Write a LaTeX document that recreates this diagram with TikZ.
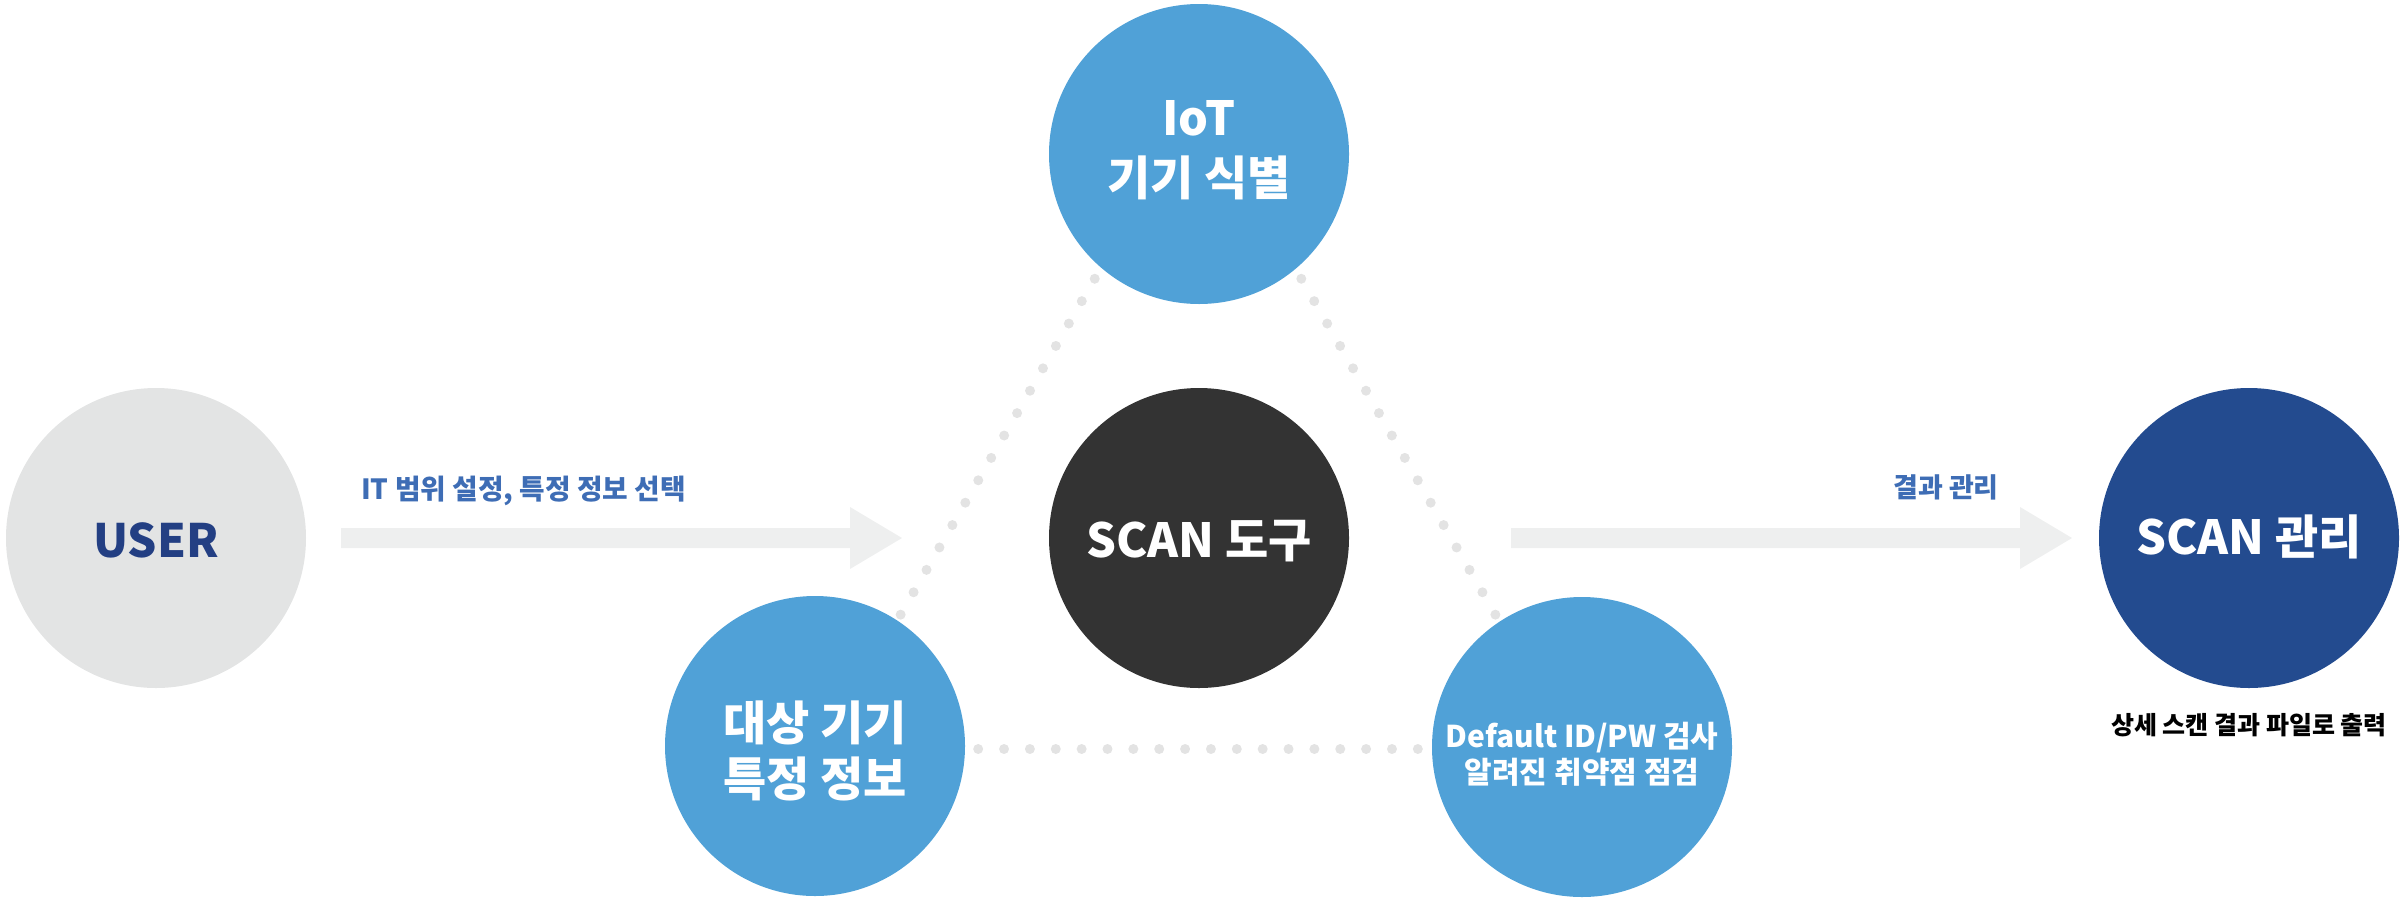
\documentclass[tikz,border=0pt]{standalone}
\usepackage{fontspec}
\usetikzlibrary{calc}
\setmainfont{Noto Sans CJK KR}
\definecolor{usergray}{HTML}{E3E4E4}
\definecolor{userblue}{HTML}{233F83}
\definecolor{skyblue}{HTML}{50A1D7}
\definecolor{coal}{HTML}{333333}
\definecolor{navy}{HTML}{234B8F}
\definecolor{labelblue}{HTML}{3E6DB5}
\definecolor{dotgray}{HTML}{E3E3E3}
\definecolor{arrowgray}{HTML}{EEEFEF}
\tikzset{
  circ/.style={circle, minimum size=300pt, inner sep=0pt, draw=none},
  bigtxt/.style={font=\bfseries\fontsize{47}{57}\selectfont, text=white, anchor=base, inner sep=0pt},
  midtxt/.style={font=\bfseries\fontsize{30}{35}\selectfont, text=white, anchor=base, inner sep=0pt},
  smalltxt/.style={font=\bfseries\fontsize{27}{32}\selectfont, text=labelblue, anchor=base, inner sep=0pt},
  dotline/.style={draw=dotgray, line width=10pt, line cap=round, dash pattern=on 0pt off 25.862pt},
  flowarrow/.style={fill=arrowgray, draw=none}
}
\begin{document}
\begin{tikzpicture}[x=1pt, y=-1pt]
\useasboundingbox (0,0) rectangle (2400,900);

% dotted triangle behind the three blue circles
\coordinate (tA) at (1198,100);
\coordinate (tB) at (823,749);
\coordinate (tC) at (1573,749);
\draw[dotline] (tB) -- (tA);
\draw[dotline] (tC) -- (tA);
\draw[dotline] (tB) -- (tC);

% flow arrows
\coordinate (a1s) at (341,538);
\coordinate (a1e) at (902,538);
\coordinate (a2s) at (1511,538);
\coordinate (a2e) at (2072,538);
\fill[flowarrow] ($(a1s)+(0,-10)$) -- ($(a1e)+(-52,-10)$) -- ($(a1e)+(-52,-31)$) -- (a1e)
  -- ($(a1e)+(-52,31)$) -- ($(a1e)+(-52,10)$) -- ($(a1s)+(0,10)$) -- cycle;
\fill[flowarrow] ($(a2s)+(0,-10)$) -- ($(a2e)+(-52,-10)$) -- ($(a2e)+(-52,-31)$) -- (a2e)
  -- ($(a2e)+(-52,31)$) -- ($(a2e)+(-52,10)$) -- ($(a2s)+(0,10)$) -- cycle;

% circles
\node[circ, fill=usergray] (user) at (156,538) {};
\node[circ, fill=skyblue] (iot) at (1199,154) {};
\node[circ, fill=coal] (scan) at (1199,538) {};
\node[circ, fill=skyblue] (target) at (815,746) {};
\node[circ, fill=skyblue] (check) at (1582,747) {};
\node[circ, fill=navy] (manage) at (2249,538) {};

% circle texts
\node[bigtxt, text=userblue, font=\bfseries\fontsize{46}{57}\selectfont] (usert) at (156,557) {USER};
\node[bigtxt] (iott1) at (1199,135) {IoT};
\node[bigtxt] (iott2) at (1199,195) {기기 식별};
\node[bigtxt] (scant) at (1199,557) {SCAN 도구};
\node[bigtxt] (targett1) at (815,740) {대상 기기};
\node[bigtxt] (targett2) at (815,796) {특정 정보};
\node[midtxt] (checkt1) at (1582,747) {Default ID/PW 검사};
\node[midtxt] (checkt2) at (1582,783) {알려진 취약점 점검};
\node[bigtxt] (managet) at (2249,554) {SCAN 관리};

% arrow labels and caption
\node[smalltxt, anchor=base west, font=\bfseries\fontsize{27.8}{32}\selectfont] (lab1) at (361,499) {IT 범위 설정, 특정 정보 선택};
\node[smalltxt] (lab2) at (1946,497) {결과 관리};
\node[smalltxt, text=black, font=\bfseries\fontsize{25}{30}\selectfont] (cap) at (2249,734) {상세 스캔 결과 파일로 출력};
\end{tikzpicture}
\end{document}
